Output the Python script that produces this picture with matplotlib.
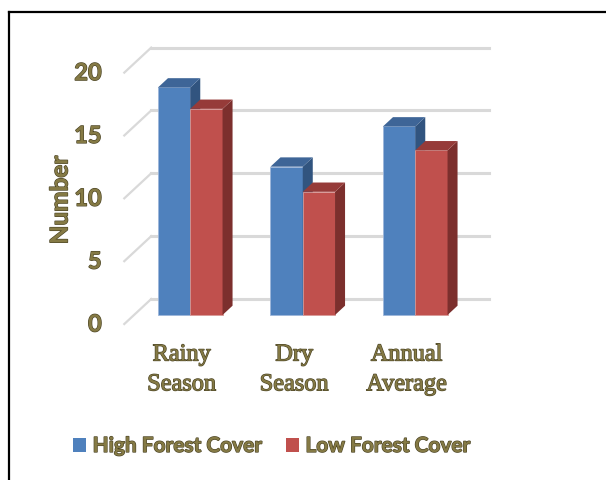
import matplotlib
matplotlib.use("Agg")
import matplotlib.pyplot as plt
import matplotlib.patheffects as pe
from matplotlib.patches import Polygon, Patch
from matplotlib.lines import Line2D

# dane
categories = ["Rainy\nSeason", "Dry\nSeason", "Annual\nAverage"]
high_cover = [18.1, 11.8, 15.0]
low_cover = [16.4, 9.8, 13.1]
series_names = ["High Forest Cover", "Low Forest Cover"]
yticks = [0, 5, 10, 15, 20]

# kolory (front, gora, bok)
blue = ("#4F81BD", "#3E6597", "#31547F")
red = ("#C0504D", "#963B39", "#7C2F2D")
text_col = "#857A45"
grid_col = "#D9D9D9"

# przesuniecie "glebokosci" 3D w jednostkach danych
DX, DY = 0.089, 0.74
BACK = 1.72     # tylna sciana
FRONT = -0.97   # przednia krawedz podlogi

bar_w = 0.287

fig = plt.figure(figsize=(6.06, 4.81), dpi=100)
W, H = 606, 481
ax = fig.add_axes([134 / W, (H - 316) / H, 337.5 / W, 251.4 / H])
ax.set_xlim(-0.5, 2.5)
ax.set_ylim(0, 20)
ax.axis("off")

shadow = [pe.withStroke(linewidth=0.9, foreground="#4B4425")]

# siatka: przekatna na lewej scianie + linia na tylnej scianie
for v in yticks:
    ax.plot([-0.5 + FRONT * DX, -0.5 + BACK * DX],
            [v + FRONT * DY, v + BACK * DY],
            color=grid_col, lw=1.6, clip_on=False, zorder=0)
    ax.plot([-0.5 + BACK * DX, 2.5 + BACK * DX],
            [v + BACK * DY, v + BACK * DY],
            color=grid_col, lw=2.2, clip_on=False, zorder=0)
    ax.text(-0.5 + FRONT * DX - 0.2, v + FRONT * DY, str(v),
            ha="right", va="center", fontsize=17, fontweight="bold",
            family="Lato", color=text_col, path_effects=shadow)


def bar3d(x0, h, cols, z):
    x1 = x0 + bar_w
    ax.add_patch(Polygon([(x0, 0), (x1, 0), (x1, h), (x0, h)],
                         closed=True, fc=cols[0], ec="#9DB6DA" if cols is blue else "#D89A98",
                         lw=0.6, zorder=z, clip_on=False))
    ax.add_patch(Polygon([(x1, 0), (x1 + DX, DY), (x1 + DX, h + DY), (x1, h)],
                         closed=True, fc=cols[2], ec="none", zorder=z, clip_on=False))
    ax.add_patch(Polygon([(x0, h), (x1, h), (x1 + DX, h + DY), (x0 + DX, h + DY)],
                         closed=True, fc=cols[1], ec="none", zorder=z, clip_on=False))


for i in range(len(categories)):
    bar3d(i - bar_w, high_cover[i], blue, 2 + 2 * i)
    bar3d(i, low_cover[i], red, 3 + 2 * i)
    ax.text(i + FRONT * DX + 0.01, -2.35, categories[i], ha="center", va="top",
            fontsize=17.5, family="Liberation Serif", color=text_col,
            linespacing=1.55, path_effects=shadow)

fig.text(60 / W, 1 - 201 / H, "Number", rotation=90, ha="center", va="center",
         fontsize=17.5, fontweight="bold", family="Lato", color=text_col,
         path_effects=shadow)

handles = [Patch(fc=blue[0], ec="none"), Patch(fc=red[0], ec="none")]
leg = fig.legend(handles, series_names, loc="center", ncol=2,
                 bbox_to_anchor=(272 / W, 1 - 447 / H), frameon=False,
                 prop={"family": "Lato", "weight": "bold", "size": 15},
                 handlelength=0.65, handleheight=0.65, handletextpad=0.3,
                 columnspacing=1.1)
for t in leg.get_texts():
    t.set_color(text_col)
    t.set_path_effects(shadow)

# ramka wykresu (gorna i lewa krawedz)
fig.add_artist(Line2D([9 / W, 1], [1 - 12.5 / H, 1 - 12.5 / H], color="black", lw=1.6))
fig.add_artist(Line2D([9 / W, 9 / W], [0, 1 - 12.5 / H], color="black", lw=1.6))

fig.savefig("out.png", dpi=100)
